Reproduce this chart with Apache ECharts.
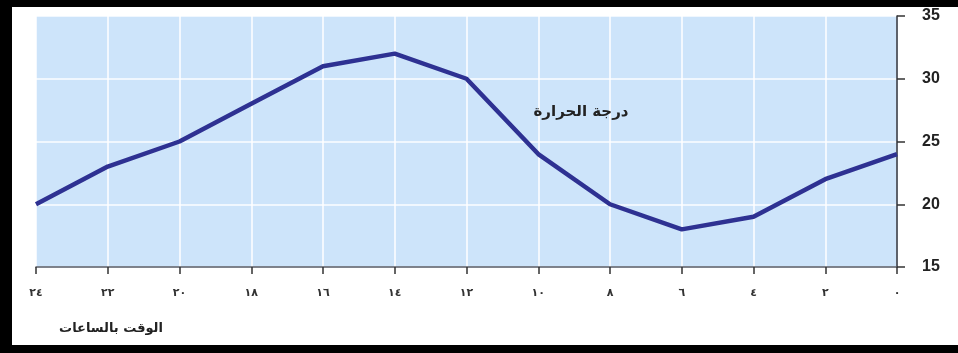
<!DOCTYPE html>
<html>
<head>
<meta charset="utf-8">
<script src="https://cdn.jsdelivr.net/npm/echarts@6/dist/echarts.min.js"></script>
<style>
  html, body { margin: 0; padding: 0; background: #fff; }
  #chart { width: 958px; height: 353px; }
</style>
</head>
<body>
<div id="chart"></div>
<script>
// Hours of the day, shown with Arabic-Indic digits, from 24 down to 0
const hours = ['٢٤', '٢٢', '٢٠', '١٨', '١٦', '١٤', '١٢', '١٠', '٨', '٦', '٤', '٢', '٠'];
// Temperature at each hour
const temperatures = [20, 23, 25, 28, 31, 32, 30, 24, 20, 18, 19, 22, 24];
// Temperature axis ticks
const tempMin = 15;
const tempMax = 35;
const tempStep = 5;

const seriesName = 'درجة الحرارة';
const axisTitle = 'الوقت بالساعات';

const chart = echarts.init(document.getElementById('chart'), null, { renderer: 'canvas' });

chart.setOption({
  backgroundColor: '#ffffff',
  animation: false,
  grid: {
    left: 36, right: 61, top: 16, bottom: 86,
    show: true,
    backgroundColor: '#cde4fa',
    borderWidth: 0
  },
  xAxis: {
    type: 'category',
    data: hours,
    boundaryGap: false,
    axisLine: { show: true, lineStyle: { color: '#555b66', width: 1.5 } },
    axisTick: { show: true, length: 7, lineStyle: { color: '#333', width: 1.5 } },
    axisLabel: {
      margin: 21,
      fontSize: 11,
      fontWeight: 'bold',
      color: '#333',
      fontFamily: 'DejaVu Sans'
    },
    splitLine: { show: true, lineStyle: { color: '#ffffff', width: 1.5 } }
  },
  yAxis: {
    type: 'value',
    position: 'right',
    min: tempMin,
    max: tempMax,
    interval: tempStep,
    axisLine: { show: true, lineStyle: { color: '#2a2f3a', width: 1.5 } },
    axisTick: { show: true, inside: false, length: 8, lineStyle: { color: '#333', width: 1.5 } },
    axisLabel: {
      margin: 25,
      fontSize: 16,
      fontWeight: 'bold',
      color: '#222',
      fontFamily: 'Liberation Sans'
    },
    splitLine: { show: true, lineStyle: { color: 'rgba(255,255,255,0.7)', width: 2 } }
  },
  series: [{
    name: seriesName,
    type: 'line',
    data: temperatures,
    showSymbol: false,
    symbol: 'none',
    lineStyle: { color: '#2e3192', width: 4.5 },
    z: 5
  }],
  graphic: [
    // black frame strips
    { type: 'rect', left: 0, top: 0, shape: { width: 958, height: 7 }, style: { fill: '#000' }, z: 100 },
    { type: 'rect', left: 0, top: 0, shape: { width: 12, height: 353 }, style: { fill: '#000' }, z: 100 },
    { type: 'rect', left: 0, top: 345, shape: { width: 958, height: 8 }, style: { fill: '#000' }, z: 100 },
    // series name inside the plot
    {
      type: 'text', x: 581, y: 112, z: 50,
      style: {
        text: seriesName,
        fill: '#222',
        font: 'bold 15px "DejaVu Sans"',
        textAlign: 'center',
        textVerticalAlign: 'middle'
      }
    },
    // horizontal axis title
    {
      type: 'text', x: 111, y: 329, z: 50,
      style: {
        text: axisTitle,
        fill: '#222',
        font: 'bold 13px "DejaVu Sans"',
        textAlign: 'center',
        textVerticalAlign: 'middle'
      }
    }
  ]
});
</script>
</body>
</html>
